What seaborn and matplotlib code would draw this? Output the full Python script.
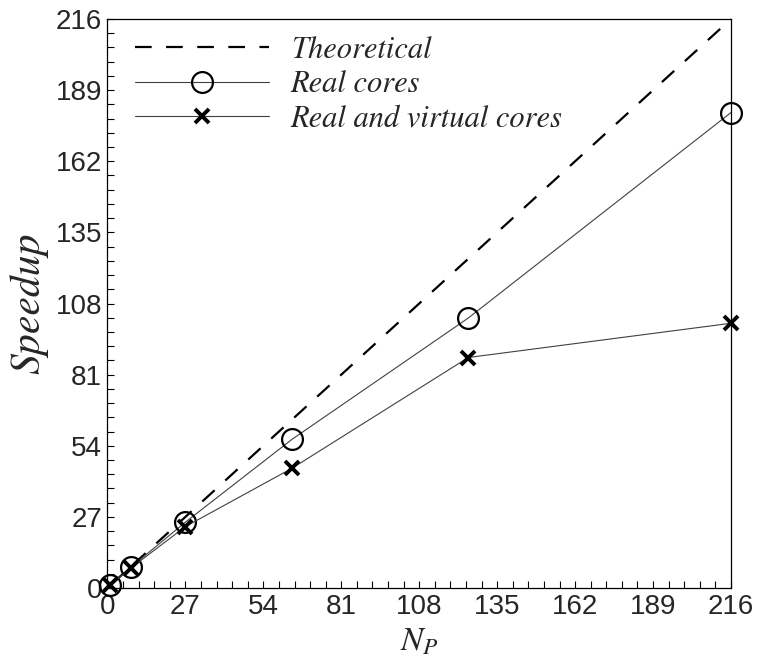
import matplotlib
matplotlib.use("Agg")
import matplotlib.pyplot as plt
from matplotlib.ticker import AutoMinorLocator
import seaborn as sns

# number of processes and measured speedups
n_procs = [1, 8, 27, 64, 125, 216]
theoretical = [1, 8, 27, 64, 125, 216]
real_cores = [1, 7.8, 25, 56.5, 102.5, 180.5]
real_virtual = [1, 7.5, 23.3, 45.5, 87.5, 100.5]

ticks = [0, 27, 54, 81, 108, 135, 162, 189, 216]

sns.set_style("ticks")
plt.rcParams["font.family"] = ["Liberation Sans", "DejaVu Sans"]
plt.rcParams["mathtext.fontset"] = "stix"

fig = plt.figure(figsize=(7.58, 6.65), dpi=100)
ax = fig.add_axes([0.1418, 0.1158, 0.8226, 0.8556])

sns.lineplot(x=n_procs, y=theoretical, ax=ax, color="black", linewidth=1.6,
             linestyle=(0, (7.5, 6.5)), label="Theoretical", clip_on=False)
sns.lineplot(x=n_procs, y=real_cores, ax=ax, color="#404040", linewidth=0.8,
             marker="o", markersize=15, markerfacecolor="none",
             markeredgecolor="black", markeredgewidth=1.6,
             label="Real cores", clip_on=False)
sns.lineplot(x=n_procs, y=real_virtual, ax=ax, color="#404040", linewidth=0.8,
             marker="x", markersize=10, markeredgecolor="black",
             markeredgewidth=2.8, label="Real and virtual cores", clip_on=False)

ax.set_xlim(0, 216)
ax.set_ylim(0, 216)
ax.set_xticks(ticks)
ax.set_yticks(ticks)
ax.xaxis.set_minor_locator(AutoMinorLocator(5))
ax.yaxis.set_minor_locator(AutoMinorLocator(5))
ax.tick_params(which="both", direction="in", length=5, width=0.8,
               color="black", top=False, right=False)
ax.tick_params(axis="both", which="major", labelsize=20, pad=4)
for s in ax.spines.values():
    s.set_visible(True)
    s.set_linewidth(0.9)
    s.set_color("black")

ax.set_xlabel(r"$N_P$", fontsize=24, labelpad=5)
ax.set_ylabel("Speedup", fontsize=30, family="STIXGeneral",
              style="italic", labelpad=5)

ax.legend(loc="upper left", bbox_to_anchor=(0.017, 1.0), frameon=False,
          numpoints=1, handlelength=4.4,
          prop={"family": "STIXGeneral", "style": "italic", "size": 22},
          borderaxespad=0.4, borderpad=0.15, labelspacing=0.22,
          handletextpad=0.7)

fig.savefig("out.png", dpi=100)
